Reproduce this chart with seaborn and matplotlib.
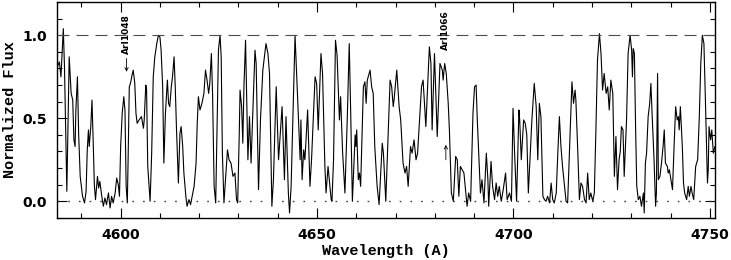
import matplotlib
matplotlib.use("Agg")
import matplotlib.pyplot as plt
import pandas as pd
import seaborn as sns
from matplotlib.ticker import MultipleLocator

# spectrum (wavelength in A, normalized flux)
wave = [
    4583.9, 4584.4, 4584.8, 4585.4, 4585.7, 4586.3, 4586.9, 4587.4, 4587.8, 4588.1,
    4588.4, 4588.6, 4589.0, 4589.3, 4589.7, 4590.3, 4590.8, 4591.2, 4591.5, 4591.8,
    4592.0, 4592.4, 4592.7, 4593.0, 4593.3, 4593.6, 4594.1, 4594.4, 4594.7, 4595.2,
    4595.6, 4596.0, 4596.4, 4596.9, 4597.3, 4597.7, 4598.1, 4598.6, 4599.0, 4599.4,
    4599.7, 4600.0, 4600.4, 4600.8, 4601.1, 4601.4, 4601.7, 4601.9, 4602.2, 4602.5,
    4602.9, 4603.2, 4603.6, 4603.9, 4604.2, 4604.7, 4605.3, 4605.8, 4606.0, 4606.4,
    4606.6, 4606.9, 4607.5, 4607.9, 4608.3, 4608.7, 4609.2, 4609.6, 4610.0, 4610.3,
    4610.7, 4611.0, 4611.4, 4611.9, 4612.2, 4612.5, 4612.9, 4613.2, 4613.6, 4613.9,
    4614.2, 4614.7, 4615.1, 4615.4, 4615.8, 4616.1, 4616.6, 4616.9, 4617.4, 4617.8,
    4618.3, 4618.7, 4619.2, 4619.5, 4619.8, 4620.2, 4620.7, 4621.2, 4621.6, 4622.0,
    4622.4, 4622.7, 4623.1, 4623.4, 4623.8, 4624.2, 4624.6, 4624.9, 4625.3, 4625.6,
    4625.9, 4626.3, 4626.8, 4627.2, 4627.6, 4628.1, 4628.6, 4629.1, 4629.5, 4629.8,
    4630.2, 4630.4, 4630.8, 4631.1, 4631.4, 4631.8, 4632.1, 4632.4, 4632.8, 4633.2,
    4634.2, 4634.5, 4635.1, 4635.6, 4636.2, 4636.6, 4637.0, 4637.5, 4637.9, 4638.5,
    4638.9, 4639.6, 4640.2, 4641.1, 4641.7, 4642.1, 4642.7, 4643.0, 4643.4, 4644.4,
    4645.3, 4645.7, 4645.9, 4646.2, 4646.6, 4646.9, 4647.2, 4647.6, 4648.2, 4648.6,
    4649.5, 4649.9, 4650.3, 4651.0, 4651.4, 4652.0, 4652.3, 4652.8, 4653.6, 4653.8,
    4654.2, 4654.7, 4655.1, 4655.4, 4655.7, 4656.0, 4656.5, 4657.1, 4657.7, 4658.2,
    4658.6, 4659.0, 4659.7, 4659.9, 4660.1, 4660.5, 4660.8, 4661.1, 4661.8, 4662.2,
    4662.5, 4662.8, 4663.5, 4663.9, 4664.3, 4664.7, 4665.3, 4665.8, 4666.6, 4666.9,
    4667.5, 4668.6, 4669.0, 4669.4, 4669.6, 4670.3, 4670.9, 4671.3, 4671.9, 4672.4,
    4672.8, 4673.2, 4673.8, 4674.2, 4674.7, 4675.2, 4675.6, 4676.2, 4676.6, 4677.0,
    4677.7, 4678.6, 4679.0, 4679.3, 4679.9, 4680.6, 4681.3, 4681.9, 4682.1, 4682.5,
    4682.9, 4683.4, 4683.7, 4684.2, 4684.7, 4685.3, 4685.7, 4686.1, 4686.5, 4687.4,
    4688.2, 4688.6, 4689.1, 4689.7, 4690.1, 4690.5, 4690.8, 4691.6, 4692.0, 4692.5,
    4693.1, 4693.5, 4693.7, 4694.3, 4694.7, 4695.2, 4695.6, 4696.0, 4696.4, 4696.9,
    4697.4, 4698.0, 4698.4, 4699.0, 4699.5, 4699.9, 4700.3, 4700.8, 4701.4, 4701.6,
    4702.0, 4702.6, 4703.0, 4703.4, 4703.8, 4704.3, 4704.7, 4705.3, 4705.8, 4706.2,
    4706.6, 4707.0, 4707.5, 4707.9, 4708.3, 4708.7, 4709.2, 4709.6, 4710.0, 4710.4,
    4710.9, 4711.3, 4711.7, 4712.1, 4712.5, 4713.0, 4713.4, 4713.8, 4714.2, 4714.7,
    4714.9, 4715.3, 4715.7, 4715.9, 4716.4, 4716.8, 4717.2, 4717.6, 4718.1, 4718.5,
    4718.9, 4719.3, 4719.7, 4720.2, 4720.6, 4721.0, 4721.4, 4721.9, 4722.3, 4722.7,
    4723.1, 4723.6, 4724.0, 4724.4, 4724.8, 4725.3, 4725.7, 4726.1, 4726.5, 4726.9,
    4727.2, 4727.5, 4727.9, 4728.2, 4728.8, 4729.2, 4729.7, 4730.1, 4730.3, 4730.5,
    4730.8, 4731.1, 4731.4, 4731.8, 4732.2, 4732.6, 4733.1, 4733.3, 4733.6, 4733.9,
    4734.3, 4734.7, 4735.0, 4735.3, 4735.8, 4736.2, 4736.4, 4736.7, 4736.9, 4737.3,
    4737.7, 4738.1, 4738.4, 4738.7, 4739.2, 4739.4, 4739.7, 4740.1, 4740.5, 4740.9,
    4741.3, 4741.7, 4742.0, 4742.2, 4742.5, 4743.0, 4743.3, 4743.6, 4744.1, 4744.5,
    4744.8, 4745.2, 4745.5, 4745.9, 4746.4, 4746.9, 4747.3, 4747.7, 4748.1, 4748.5,
    4748.9, 4749.2, 4749.4, 4749.6, 4749.8, 4750.2, 4750.5, 4750.9, 4751.3,
]
flux = [
    0.81, 0.84, 0.75, 1.04, 0.81, 0.06, 0.87, 0.65, 0.61, 0.37,
    0.33, 0.55, 0.75, 0.41, 0.15, 0.03, -0.01, 0.06, 0.31, 0.43,
    0.33, 0.45, 0.61, 0.37, 0.10, 0.01, 0.15, 0.08, 0.12, 0.03,
    -0.03, 0.02, -0.02, 0.05, -0.04, 0.03, -0.01, 0.05, 0.14, 0.10,
    0.03, 0.33, 0.53, 0.63, 0.55, 0.09, -0.01, 0.25, 0.69, 0.71,
    0.76, 0.79, 0.71, 0.53, 0.47, 0.49, 0.51, 0.44, 0.49, 0.70,
    0.67, 0.21, 0.00, 0.29, 0.75, 0.87, 0.95, 1.00, 0.99, 0.91,
    0.69, 0.23, 0.53, 0.73, 0.59, 0.57, 0.69, 0.75, 0.87, 0.69,
    0.45, 0.11, 0.41, 0.45, 0.33, 0.17, 0.03, -0.03, 0.01, -0.02,
    0.04, 0.09, 0.23, 0.47, 0.63, 0.55, 0.59, 0.65, 0.79, 0.73,
    0.65, 0.71, 0.89, 0.65, 0.09, -0.01, 0.51, 0.91, 1.00, 0.87,
    0.29, -0.01, 0.17, 0.31, 0.25, 0.23, 0.15, 0.17, 0.01, -0.01,
    0.41, 0.67, 0.57, 0.35, 0.70, 0.97, 0.60, 0.25, 0.51, 0.23,
    0.91, 0.83, 0.07, 0.49, 0.79, 0.87, 0.95, 0.89, 0.77, -0.03,
    0.13, 0.69, 0.25, 0.57, 0.13, 0.51, 0.05, -0.07, 0.09, 1.00,
    0.47, 0.25, 0.49, 0.13, 0.31, 0.25, 0.37, 0.55, 0.09, 0.25,
    0.75, 0.71, 0.43, 0.89, 0.77, 0.21, 0.05, 0.21, 0.01, 0.00,
    0.25, 0.97, 0.88, 0.69, 0.49, 0.63, 0.30, 0.05, 0.50, 0.95,
    0.50, 0.00, 0.40, 0.33, 0.43, 0.13, 0.17, 0.09, 0.69, 0.72,
    0.59, 0.73, 0.79, 0.69, 0.65, 0.33, 0.09, -0.02, 0.35, 0.29,
    0.00, 0.73, 0.69, 0.57, 0.61, 0.79, 0.57, 0.49, 0.23, 0.17,
    0.21, 0.09, 0.33, 0.29, 0.37, 0.25, 0.29, 0.53, 0.69, 0.73,
    0.45, 0.93, 0.83, 0.43, 0.89, 0.39, 0.83, 0.79, 0.73, 0.83,
    0.77, 0.59, 0.43, 0.05, 0.00, 0.27, 0.25, 0.03, 0.21, 0.17,
    -0.03, 0.05, 0.00, 0.53, 0.69, 0.70, 0.49, 0.05, 0.13, -0.01,
    0.29, 0.13, -0.03, 0.24, 0.09, 0.01, 0.11, 0.03, 0.09, 0.00,
    0.07, 0.17, 0.01, 0.05, 0.00, 0.56, 0.29, 0.00, 0.55, 0.49,
    0.25, 0.49, 0.47, 0.40, 0.05, 0.29, 0.49, 0.71, 0.57, 0.25,
    0.59, 0.51, 0.03, 0.01, 0.00, 0.03, -0.01, 0.11, 0.01, -0.01,
    0.05, 0.29, 0.51, 0.33, 0.21, 0.09, 0.00, -0.01, 0.25, 0.57,
    0.72, 0.59, 0.67, 0.61, 0.29, 0.01, 0.11, 0.09, 0.01, -0.01,
    0.17, 0.01, 0.05, 0.00, 0.05, 0.43, 0.85, 1.01, 0.89, 0.67,
    0.77, 0.65, 0.69, 0.55, 0.73, 0.65, 0.15, 0.39, 0.07, 0.25,
    0.30, 0.45, 0.43, 0.15, 0.49, 0.89, 1.00, 0.91, 0.75, 0.92,
    0.89, 0.45, 0.09, 0.01, 0.03, -0.03, 0.05, -0.07, 0.23, 0.29,
    0.51, 0.59, 0.71, 0.53, 0.25, -0.03, 0.05, 0.77, 0.13, 0.15,
    0.23, 0.33, 0.43, 0.23, 0.21, 0.17, 0.19, 0.13, 0.07, 0.33,
    0.57, 0.49, 0.51, 0.43, 0.57, 0.33, 0.11, 0.05, 0.01, 0.09,
    0.03, 0.09, 0.05, 0.01, 0.21, 0.25, 0.49, 0.83, 1.00, 0.95,
    0.59, 0.29, 0.11, 0.19, 0.45, 0.37, 0.43, 0.29, 0.33,
]

# marked lines
line_labels = ["ArI1048", "ArI1066"]
line_wave = [4601.5, 4682.8]
arrow_from = [0.86, 0.25]
arrow_to = [0.78, 0.34]
label_y = [1.005, 1.03]

sns.set_style("ticks")
plt.rcParams["font.family"] = ["DejaVu Sans"]
plt.rcParams["axes.linewidth"] = 1.0
plt.rcParams["text.color"] = "black"
plt.rcParams["axes.labelcolor"] = "black"

df = pd.DataFrame({"wave": wave, "flux": flux})

fig = plt.figure(figsize=(7.31, 2.60), dpi=100)
ax = fig.add_axes([0.078, 0.162, 0.900, 0.830])

sns.lineplot(data=df, x="wave", y="flux", ax=ax, color="black", lw=0.8,
             estimator=None, sort=False)

ax.axhline(1.0, color="0.3", lw=0.8, dashes=(10.8, 6.3))
ax.axhline(0.0, color="0.25", lw=1.0, ls=(0, (1.2, 6.5)))

for lab, w, y0, y1, ty in zip(line_labels, line_wave, arrow_from, arrow_to, label_y):
    ax.annotate("", xy=(w, y1), xytext=(w, y0),
                arrowprops=dict(arrowstyle="->", lw=0.6, color="black",
                                shrinkA=0, shrinkB=0, mutation_scale=6))
    ax.text(w, ty, lab, rotation=90, ha="center", va="center",
            fontsize=6.5, fontweight="bold", color="black")

ax.set_xlim(4583.8, 4751.3)
ax.set_ylim(-0.1, 1.2)
ax.xaxis.set_major_locator(MultipleLocator(50))
ax.xaxis.set_minor_locator(MultipleLocator(10))
ax.yaxis.set_major_locator(MultipleLocator(0.5))
ax.yaxis.set_minor_locator(MultipleLocator(0.1))
ax.yaxis.set_major_formatter(plt.FormatStrFormatter("%.1f"))

ax.tick_params(which="both", direction="in", top=True, right=True,
               width=0.8, colors="black", labelcolor="black")
ax.tick_params(which="major", length=7, labelsize=10, pad=7)
ax.tick_params(which="minor", length=3.5)
for t in ax.get_xticklabels() + ax.get_yticklabels():
    t.set_fontweight("bold")

ax.set_xlabel("Wavelength (A)", family="Liberation Mono", fontweight="bold",
              fontsize=11, labelpad=2, color="black")
ax.set_ylabel("Normalized Flux", family="Liberation Mono", fontweight="bold",
              fontsize=11, labelpad=4, color="black")
for s in ax.spines.values():
    s.set_color("black")

fig.savefig("out.png", dpi=100)
